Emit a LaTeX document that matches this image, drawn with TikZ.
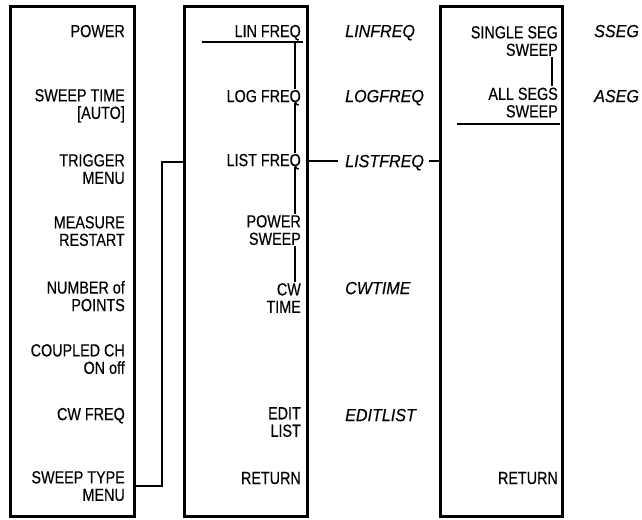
\documentclass[tikz,border=0pt]{standalone}
\usepackage{fontspec}
\setmainfont{Liberation Sans}[FakeStretch=0.82, FakeBold=0.35]
\newfontfamily\itlab{Liberation Sans}[FakeStretch=0.92, FakeBold=0.35]
\begin{document}
\begin{tikzpicture}[x=1pt,y=-1pt,
  box/.style={draw, line width=3pt, inner sep=0pt},
  key/.style={anchor=east, align=right, font=\fontsize{17.5}{17.5}\selectfont, inner sep=1pt, text depth=0pt},
  lab/.style={anchor=west, font=\itlab\itshape\fontsize{17.5}{17.5}\selectfont, inner sep=1pt, text depth=0pt},
  conn/.style={line width=2.8pt},
  thinl/.style={line width=1.5pt}]
\useasboundingbox (0,0) rectangle (642,519);
% boxes
\node[box, minimum width=124pt, minimum height=509pt] (b1) at (72,261.5) {};
\node[box, minimum width=123pt, minimum height=509pt] (b2) at (245.5,261.5) {};
\node[box, minimum width=122pt, minimum height=509pt] (b3) at (501,261.5) {};
% box 1 keys
\node[key] (p1) at (126,31) {POWER};
\node[key] (p2) at (126,104) {SWEEP TIME\\{[AUTO]}};
\node[key] (p3) at (126,169) {TRIGGER\\MENU};
\node[key] (p4) at (126,231) {MEASURE\\RESTART};
\node[key] (p5) at (126,296) {NUMBER of\\POINTS};
\node[key] (p6) at (126,359) {COUPLED CH\\ON off};
\node[key] (p7) at (126,414) {CW FREQ};
\node[key] (p8) at (126,486) {SWEEP TYPE\\MENU};
% box 2 keys
\node[key] (q1) at (302,31) {LIN FREQ};
\node[key] (q2) at (302,96) {LOG FREQ};
\node[key] (q3) at (302,160) {LIST FREQ};
\node[key] (q4) at (302,230) {POWER\\SWEEP};
\node[key] (q5) at (302,298) {CW\\TIME};
\node[key] (q6) at (302,422) {EDIT\\LIST};
\node[key] (q7) at (302,478) {RETURN};
% box 3 keys
\node[key] (r1) at (559,41) {SINGLE SEG\\SWEEP};
\node[key] (r2) at (559,102.5) {ALL SEGS\\SWEEP};
\node[key] (r3) at (559,478) {RETURN};
% italic labels
\node[lab] (l1) at (344,31) {LINFREQ};
\node[lab] (l2) at (344,96) {LOGFREQ};
\node[lab] (l3) at (344,161) {LISTFREQ};
\node[lab] (l4) at (344,288) {CWTIME};
\node[lab] (l5) at (344,415) {EDITLIST};
\node[lab] (s1) at (593,31) {SSEG};
\node[lab] (s2) at (593,96) {ASEG};
% underlines
\coordinate (u2a) at (202,42);
\coordinate (u2b) at (303,42);
\draw[thinl] (u2a) -- (u2b);
\coordinate (u3a) at (457,124);
\coordinate (u3b) at (560,124);
\draw[thinl] (u3a) -- (u3b);
% vertical chain in box 2
\coordinate (vx) at (295,0);
\draw[thinl] (u2a -| vx) -- (q2.north -| vx);
\draw[thinl] (q2.south -| vx) -- (q3.north -| vx);
\draw[thinl] (q3.south -| vx) -- (q4.north -| vx);
\draw[thinl] (q4.south -| vx) -- (q5.north -| vx);
% vertical in box 3
\coordinate (wx) at (552,0);
\draw[thinl] (r1.south -| wx) -- (r2.north -| wx);
% connectors
\coordinate (j0) at (162,486);
\coordinate (j1) at (162,162);
\draw[conn, line join=miter] (b1.east |- j0) -- (j0) -- (j1) -- (b2.west |- j1);
\draw[conn, shorten >=6pt] (b2.east |- l3) -- (l3.west);
\draw[conn, shorten <=4pt] (l3.east) -- (b3.west |- l3);
\end{tikzpicture}
\end{document}
